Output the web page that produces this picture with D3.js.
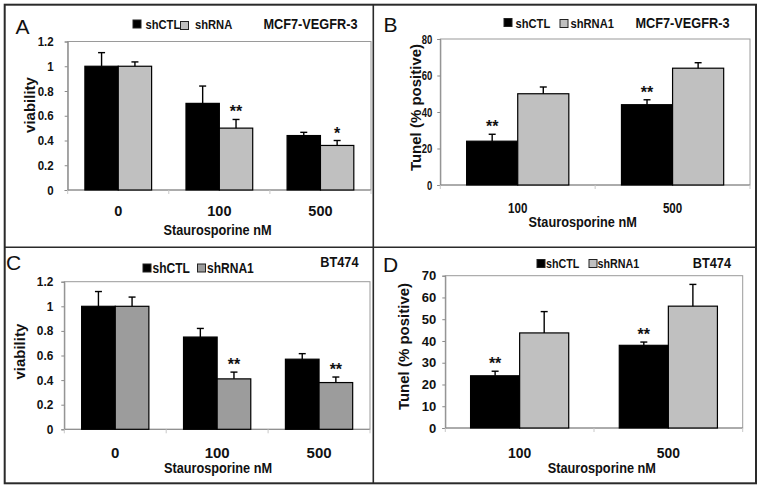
<!DOCTYPE html>
<html><head><meta charset="utf-8">
<script src="https://cdn.jsdelivr.net/npm/d3@7"></script>
<style>
html,body{margin:0;padding:0;background:#fff;}
svg{display:block;}
text{font-family:"Liberation Sans",Arial,sans-serif;}
</style></head>
<body>
<svg id="chart" width="762" height="490"></svg>
<script>
// ---------- DATA ----------
const seriesNames = ["shCTL", "shRNA"];
const seriesNames1 = ["shCTL", "shRNA1"];

// Panel A : MCF7-VEGFR-3 viability
const catsA = ["0", "100", "500"];
const aCtl = [1.0, 0.70, 0.44];
const aCtlErr = [0.11, 0.14, 0.026];
const aRna = [1.0, 0.50, 0.36];
const aRnaErr = [0.035, 0.07, 0.04];
const aCtlStars = ["", "", ""];
const aRnaStars = ["", "**", "*"];

// Panel B : MCF7-VEGFR-3 Tunel
const catsB = ["100", "500"];
const bCtl = [24, 44];
const bCtlErr = [3.8, 2.7];
const bRna = [50, 64];
const bRnaErr = [3.7, 3];
const bCtlStars = ["**", "**"];
const bRnaStars = ["", ""];

// Panel C : BT474 viability
const catsC = ["0", "100", "500"];
const cCtl = [1.0, 0.75, 0.57];
const cCtlErr = [0.12, 0.07, 0.045];
const cRna = [1.0, 0.41, 0.38];
const cRnaErr = [0.075, 0.055, 0.045];
const cCtlStars = ["", "", ""];
const cRnaStars = ["", "**", "**"];

// Panel D : BT474 Tunel
const catsD = ["100", "500"];
const dCtl = [24, 38];
const dCtlErr = [2.1, 1.5];
const dRna = [43.7, 56];
const dRnaErr = [9.8, 10];
const dCtlStars = ["**", "**"];
const dRnaStars = ["", ""];

// Tick values / labels
const viabTicks = [0, 0.2, 0.4, 0.6, 0.8, 1, 1.2];
const viabTickLabels = ["0", "0.2", "0.4", "0.6", "0.8", "1", "1.2"];
const tunelTicksB = [0, 20, 40, 60, 80];
const tunelTickLabelsB = ["0", "20", "40", "60", "80"];
const tunelTicksD = [0, 10, 20, 30, 40, 50, 60, 70];
const tunelTickLabelsD = ["0", "10", "20", "30", "40", "50", "60", "70"];

const xTitle = "Staurosporine nM";
const yTitleViab = "viability";
const yTitleTunel = "Tunel (% positive)";

// ---------- PANELS ----------
const panels = [
  {letter:"A", cats:catsA, ctl:aCtl, ctlErr:aCtlErr, rna:aRna, rnaErr:aRnaErr, ctlStars:aCtlStars, rnaStars:aRnaStars,
   ticks:viabTicks, tickLabels:viabTickLabels, names:seriesNames, cell:"MCF7-VEGFR-3", yTitle:yTitleViab,
   L:{x0:67.7, x1:371, yT:41.5, yB:190, letterX:15.5, letterY:33.5, tickPad:11, tickSize:12.5, tickSx:0.92,
      ytX:29.5, ytY:105, ytSize:15, xtX:217.5, xtY:235, xlY:215.5, xlSize:14.5, xlSx:1,
      legend:[{sx:133, sy:20, tx:145.5},{sx:180.5, sy:21.5, tx:195}], legY:28.5, legSize:13,
      cellX:357.5, cellY:28.5, gray:"#c0c0c0"}},
  {letter:"B", cats:catsB, ctl:bCtl, ctlErr:bCtlErr, rna:bRna, rnaErr:bRnaErr, ctlStars:bCtlStars, rnaStars:bRnaStars,
   ticks:tunelTicksB, tickLabels:tunelTickLabelsB, names:seriesNames1, cell:"MCF7-VEGFR-3", yTitle:yTitleTunel,
   L:{x0:440.3, x1:750, yT:39, yB:185, letterX:383.5, letterY:31.5, tickPad:5, tickSize:12.5, tickSx:0.76,
      ytX:415.5, ytY:107.5, ytSize:15, xtX:582.7, xtY:226.5, xlY:213, xlSize:14.5, xlSx:0.8,
      legend:[{sx:504, sy:18.5, tx:515.5},{sx:560, sy:19.5, tx:570.5}], legY:27.5, legSize:13,
      cellX:729.5, cellY:27.5, gray:"#c0c0c0"}},
  {letter:"C", cats:catsC, ctl:cCtl, ctlErr:cCtlErr, rna:cRna, rnaErr:cRnaErr, ctlStars:cCtlStars, rnaStars:cRnaStars,
   ticks:viabTicks, tickLabels:viabTickLabels, names:seriesNames1, cell:"BT474", yTitle:yTitleViab,
   L:{x0:64.3, x1:370, yT:281.7, yB:429.3, letterX:6, letterY:270, tickPad:8, tickSize:12.5, tickSx:0.95,
      ytX:20, ytY:351.7, ytSize:15, xtX:218, xtY:473, xlY:458, xlSize:15, xlSx:1,
      legend:[{sx:143, sy:264, tx:152.5},{sx:197.5, sy:264, tx:207}], legY:272.5, legSize:14,
      cellX:358.5, cellY:266.5, gray:"#9c9c9c"}},
  {letter:"D", cats:catsD, ctl:dCtl, ctlErr:dCtlErr, rna:dRna, rnaErr:dRnaErr, ctlStars:dCtlStars, rnaStars:dRnaStars,
   ticks:tunelTicksD, tickLabels:tunelTickLabelsD, names:seriesNames1, cell:"BT474", yTitle:yTitleTunel,
   L:{x0:445.3, x1:742.7, yT:275.7, yB:428, letterX:383, letterY:271.5, tickPad:6, tickSize:13, tickSx:1,
      ytX:403.5, ytY:346.5, ytSize:15, xtX:601.8, xtY:473, xlY:458, xlSize:14.5, xlSx:0.96,
      legend:[{sx:537, sy:259.5, tx:546},{sx:589, sy:259.5, tx:597.5}], legY:267.5, legSize:12.5,
      cellX:731, cellY:267.5, gray:"#c0c0c0"}}
];

const svg = d3.select("#chart");

// text helper with horizontal condensing
function ctext(parent, x, y, str, size, sx, anchor) {
  return parent.append("text")
    .attr("transform", `translate(${x},${y}) scale(${sx},1)`)
    .attr("text-anchor", anchor || "start")
    .attr("font-size", size).attr("font-weight", "bold").attr("fill", "#111")
    .text(str);
}

// Panel frame
svg.append("rect").attr("x",4.7).attr("y",4.7).attr("width",751.3).attr("height",478.6)
  .attr("fill","none").attr("stroke","#2a2a2a").attr("stroke-width",2);
svg.append("line").attr("x1",373.3).attr("x2",373.3).attr("y1",4.7).attr("y2",483.3)
  .attr("stroke","#2a2a2a").attr("stroke-width",1.6);
svg.append("line").attr("x1",4.7).attr("x2",756).attr("y1",247.3).attr("y2",247.3)
  .attr("stroke","#2a2a2a").attr("stroke-width",1.6);

panels.forEach(p => {
  const L = p.L;
  const g = svg.append("g");
  const yMax = p.ticks[p.ticks.length-1];
  const x = d3.scaleBand().domain(p.cats).range([L.x0, L.x1]).paddingInner(0.34).paddingOuter(0.17);
  const xs = d3.scaleBand().domain(["ctl","rna"]).range([0, x.bandwidth()]);
  const y = d3.scaleLinear().domain([0, yMax]).range([L.yB, L.yT]);

  // plot frame
  g.append("rect").attr("x",L.x0).attr("y",L.yT).attr("width",L.x1-L.x0).attr("height",L.yB-L.yT)
    .attr("fill","none").attr("stroke","#9a9a9a").attr("stroke-width",1);

  // y axis
  const yAxis = d3.axisLeft(y).tickValues(p.ticks)
    .tickFormat((d,i) => p.tickLabels[i]).tickSize(3).tickPadding(L.tickPad);
  const ya = g.append("g").attr("transform",`translate(${L.x0},0)`).call(yAxis);
  ya.select(".domain").attr("stroke","#8a8a8a");
  ya.selectAll(".tick line").attr("stroke","#8a8a8a");
  ya.selectAll(".tick text").attr("font-size",L.tickSize).attr("font-weight","bold").attr("fill","#111")
    .attr("x", -(3 + L.tickPad) / L.tickSx)
    .attr("transform", `scale(${L.tickSx},1)`);

  // x axis baseline and between-category ticks
  g.append("line").attr("x1",L.x0).attr("x2",L.x1).attr("y1",y(0)).attr("y2",y(0))
    .attr("stroke","#8a8a8a").attr("stroke-width",1);
  const bounds = p.cats.map(c => x(c) - x.step()*x.paddingInner()/2).concat([L.x1]);
  g.selectAll(".xt").data(bounds).join("line")
    .attr("x1",d=>d).attr("x2",d=>d).attr("y1",y(0)).attr("y2",y(0)+4)
    .attr("stroke","#c8c8c8").attr("stroke-width",1);

  // x labels
  p.cats.forEach(c => ctext(g, x(c) + x.bandwidth()/2, L.xlY, c, L.xlSize, L.xlSx, "middle"));

  // bars
  const rows = [];
  p.cats.forEach((c,i) => {
    rows.push({c, s:"ctl", v:p.ctl[i], e:p.ctlErr[i], st:p.ctlStars[i], fill:"#000"});
    rows.push({c, s:"rna", v:p.rna[i], e:p.rnaErr[i], st:p.rnaStars[i], fill:L.gray});
  });
  g.selectAll(".bar").data(rows).join("rect")
    .attr("x",d => x(d.c)+xs(d.s)).attr("y",d => y(d.v))
    .attr("width",xs.bandwidth()).attr("height",d => y(0)-y(d.v))
    .attr("fill",d => d.fill).attr("stroke","#000").attr("stroke-width",1.2);

  // error bars
  const cx = d => x(d.c)+xs(d.s)+xs.bandwidth()/2;
  g.selectAll(".eb").data(rows).join("line")
    .attr("x1",cx).attr("x2",cx).attr("y1",d=>y(d.v)).attr("y2",d=>y(d.v+d.e))
    .attr("stroke","#000").attr("stroke-width",1.4);
  g.selectAll(".ec").data(rows).join("line")
    .attr("x1",d=>cx(d)-3.5).attr("x2",d=>cx(d)+3.5).attr("y1",d=>y(d.v+d.e)).attr("y2",d=>y(d.v+d.e))
    .attr("stroke","#000").attr("stroke-width",1.4);

  // stars
  g.selectAll(".st").data(rows.filter(d=>d.st)).join("text")
    .attr("x",cx).attr("y",d=>y(d.v+d.e)-2)
    .attr("text-anchor","middle").attr("font-size",16).attr("font-weight","bold").attr("fill","#111")
    .text(d=>d.st);

  // panel letter
  g.append("text").attr("x",L.letterX).attr("y",L.letterY).attr("font-size",21).attr("fill","#111").text(p.letter);

  // y title
  g.append("text").attr("transform",`translate(${L.ytX},${L.ytY}) rotate(-90)`)
    .attr("text-anchor","middle").attr("dy","0.35em").attr("font-size",L.ytSize).attr("font-weight","bold")
    .attr("fill","#111").text(p.yTitle);

  // x title
  ctext(g, L.xtX, L.xtY, xTitle, 14, 0.91, "middle");

  // legend
  const lcol = ["#000", L.gray];
  L.legend.forEach((it,i) => {
    g.append("rect").attr("x",it.sx).attr("y",it.sy).attr("width",8).attr("height",8)
      .attr("fill",lcol[i]).attr("stroke","#222").attr("stroke-width",1);
    ctext(g, it.tx, L.legY, p.names[i], L.legSize, 0.86, "start");
  });
  ctext(g, L.cellX, L.cellY, p.cell, 14, 0.91, "end");
});
</script>
</body></html>
